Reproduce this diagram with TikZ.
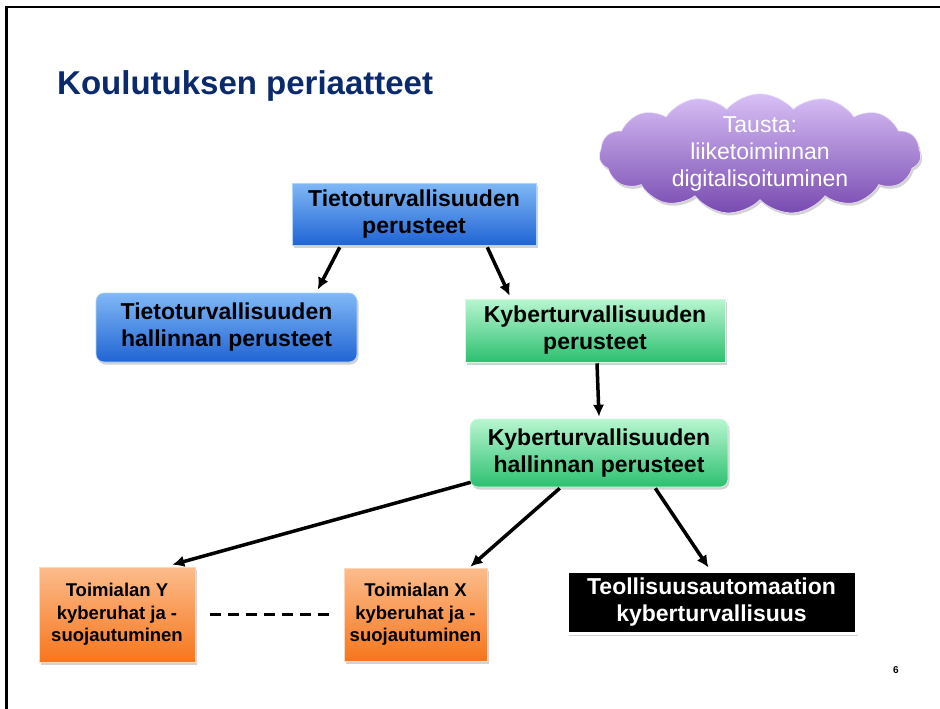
\documentclass[tikz,border=0pt]{standalone}
\usepackage{fontspec}
\setmainfont{Liberation Sans}
\usetikzlibrary{arrows.meta,shapes.symbols,shadows}
\definecolor{titleblue}{RGB}{10,42,108}
\definecolor{bluetop}{RGB}{128,184,246}
\definecolor{bluebot}{RGB}{32,100,212}
\definecolor{greentop}{RGB}{184,246,208}
\definecolor{greenbot}{RGB}{44,192,112}
\definecolor{orangetop}{RGB}{252,188,140}
\definecolor{orangebot}{RGB}{246,118,28}
\definecolor{purpletop}{RGB}{216,192,246}
\definecolor{purplebot}{RGB}{120,74,176}
\begin{document}
\begin{tikzpicture}[x=1pt,y=-1pt,
  every node/.style={font=\fontsize{23}{27}\selectfont\bfseries,align=center,inner sep=0pt},
  shade/.style={drop shadow={opacity=0.35,shadow xshift=1.5pt,shadow yshift=-2.5pt}},
  bluebox/.style={shade,top color=bluetop,bottom color=bluebot,draw=bluetop!60!white,line width=0.6pt},
  greenbox/.style={shade,top color=greentop,bottom color=greenbot,draw=greentop!60!white,line width=0.6pt},
  orangebox/.style={shade,top color=orangetop,bottom color=orangebot,draw=orangetop!60!white,line width=0.6pt,
    font=\fontsize{18.5}{22.5}\selectfont\bfseries},
  darkbox/.style={shade,fill=black,draw=white,line width=3pt,text=white},
  arr/.style={line width=3.5pt,-{Latex[length=12pt,width=11.5pt]}}]
  \useasboundingbox (0,0) rectangle (940,709);
  % frame and title
  \draw[line width=2.5pt] (6.5,712) -- (6.5,7) -- (942,7);
  \node[anchor=base west,text=titleblue,font=\fontsize{33}{36}\selectfont\bfseries] (title) at (57,94) {Koulutuksen periaatteet};
  \node[shape=cloud,cloud puffs=15,cloud puff arc=100,aspect=3.5,inner xsep=11pt,inner ysep=-5pt,
    shade,top color=purpletop,bottom color=purplebot,draw=purpletop!50!white,line width=0.6pt,
    text=white,font=\fontsize{23}{27}\selectfont] (bg) at (760,154) {Tausta:\\liiketoiminnan\\digitalisoituminen};

  % boxes
  \node[bluebox,minimum width=244pt,minimum height=62pt] (tt) at (414,214) {Tietoturvallisuuden\\perusteet};
  \node[bluebox,rounded corners=8pt,minimum width=261pt,minimum height=69pt] (tth) at (226.5,327.5) {Tietoturvallisuuden\\hallinnan perusteet};
  \node[greenbox,minimum width=260pt,minimum height=63pt] (kt) at (595,330.5) {Kyberturvallisuuden\\perusteet};
  \node[greenbox,rounded corners=8pt,minimum width=258pt,minimum height=68pt] (kth) at (599,453) {Kyberturvallisuuden\\hallinnan perusteet};
  \node[orangebox,minimum width=156pt,minimum height=95pt] (toy) at (117,614.5) {Toimialan Y\\kyberuhat ja -\\suojautuminen};
  \node[orangebox,minimum width=143pt,minimum height=93pt] (tox) at (415.5,614.5) {Toimialan X\\kyberuhat ja -\\suojautuminen};
  \node[darkbox,minimum width=289pt,minimum height=62pt] (ta) at (711.5,602) {Teollisuusautomaation\\kyberturvallisuus};
  \node[font=\fontsize{10}{12}\selectfont\bfseries] (page) at (896,670) {6};

  % connectors
  \draw[arr] ([xshift=48pt,yshift=-2pt]tt.south west) -- ([xshift=222pt,yshift=3pt]tth.north west);
  \draw[arr] ([xshift=-49pt,yshift=-2pt]tt.south east) -- ([xshift=45pt,yshift=3pt]kt.north west);
  \draw[arr] ([xshift=2pt,yshift=-1pt]kt.south) -- ([yshift=2pt]kth.north);
  \draw[arr] ([xshift=1pt,yshift=5pt]kth.south west) -- ([xshift=-23pt,yshift=2pt]toy.north east);
  \draw[arr] ([xshift=90pt,yshift=-1pt]kth.south west) -- ([xshift=-17pt,yshift=1pt]tox.north east);
  \draw[arr] ([xshift=-73pt,yshift=-1pt]kth.south east) -- ([xshift=143pt,yshift=2pt]ta.north west);
  \draw[line width=3pt,dash pattern=on 11pt off 7pt] ([xshift=15pt]toy.east) -- ([xshift=-14pt]tox.west);
\end{tikzpicture}
\end{document}
